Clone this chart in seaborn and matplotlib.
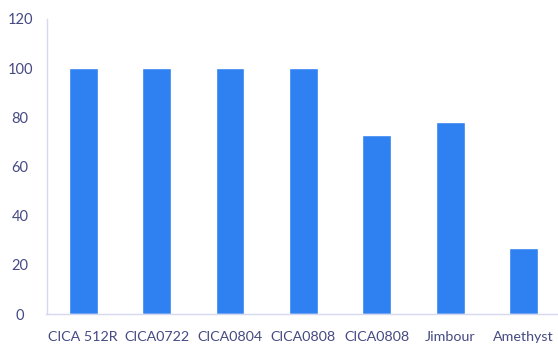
import matplotlib
matplotlib.use("Agg")
import matplotlib.pyplot as plt
import seaborn as sns
import pandas as pd
import numpy as np

categories = ["CICA 512R", "CICA0722", "CICA0804", "CICA0808", "CICA0808", "Jimbour", "Amethyst"]
values = [100, 100, 100, 100, 73, 78, 27]
yticks = [0, 20, 40, 60, 80, 100, 120]

bar_color = "#2f80f0"
axis_color = "#d6d8f0"
text_color = "#454a82"

sns.set_theme(style="white")
plt.rcParams["font.family"] = ["Lato", "DejaVu Sans"]

df = pd.DataFrame({"idx": range(len(categories)), "value": values})

fig = plt.figure(figsize=(5.58, 3.51), dpi=100)
ax = fig.add_axes([46.5 / 558, 37 / 351, 513.8 / 558, 295 / 351])

sns.barplot(data=df, x="idx", y="value", color=bar_color, width=0.39,
            saturation=1, ax=ax, native_scale=False)

ax.set_xlim(-0.5, len(categories) - 0.5)
ax.set_ylim(0, 120)
ax.set_yticks(yticks)
ax.set_yticklabels([str(t) for t in yticks])
ax.set_xticks(range(len(categories)))
ax.set_xticklabels(categories)
ax.set_xlabel("")
ax.set_ylabel("")

ax.set_xticks(np.arange(-0.5, len(categories), 1.0), minor=True)
ax.tick_params(axis="x", which="major", length=0, pad=12, labelsize=10.3, labelcolor=text_color)
ax.tick_params(axis="x", which="minor", length=3, color=axis_color, width=1)
ax.tick_params(axis="y", which="major", length=3, color=axis_color, width=1,
               pad=16, labelsize=10.5, labelcolor=text_color)
# value labels are centred in the left margin
for t in ax.get_yticklabels():
    t.set_horizontalalignment("center")

for side in ["top", "right"]:
    ax.spines[side].set_visible(False)
for side in ["left", "bottom"]:
    ax.spines[side].set_color(axis_color)
    ax.spines[side].set_linewidth(1)

fig.savefig("out.png", dpi=100, facecolor="white")
